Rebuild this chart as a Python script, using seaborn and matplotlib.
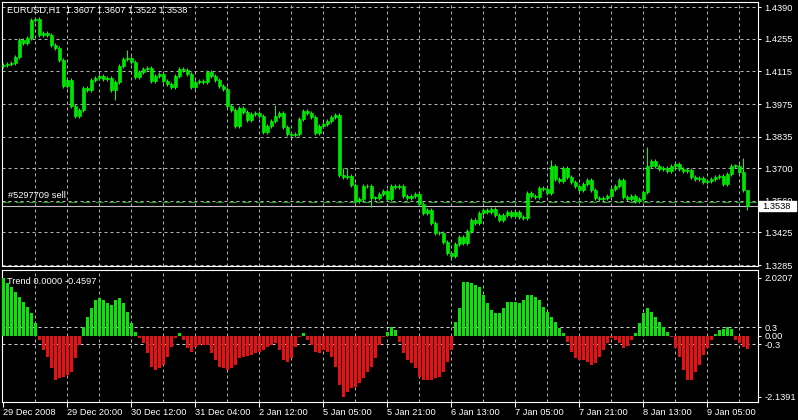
import numpy as np
import pandas as pd
import matplotlib
matplotlib.use('Agg')
import matplotlib.pyplot as plt
import matplotlib.patches as mpatches
import matplotlib.transforms as mtransforms
import seaborn as sns

# ---- data ----
symbol_info = "EURUSD,H1  1.3607 1.3607 1.3522 1.3538"
indicator_info = "Trend 0.0000 -0.4597"
order_label = "#5297709 sell"

# hourly closes, one per bar (open = previous close)
closes = [
    1.4142, 1.4146, 1.4151, 1.4176, 1.4249, 1.4237, 1.4258, 1.4335, 1.4339, 1.4271,
    1.4279, 1.4271, 1.4228, 1.4215, 1.4164, 1.4052, 1.4078, 1.3966, 1.3923, 1.3949,
    1.4043, 1.4035, 1.4078, 1.4086, 1.4095, 1.4082, 1.4086, 1.4035, 1.4069, 1.4138,
    1.4168, 1.4172, 1.4155, 1.4091, 1.4112, 1.4125, 1.4129, 1.4073, 1.4095, 1.4103,
    1.4073, 1.4061, 1.4048, 1.4095, 1.4125, 1.4121, 1.4103, 1.4048, 1.4069, 1.4073,
    1.4069, 1.4112, 1.4095, 1.4078, 1.4052, 1.4039, 1.3966, 1.3949, 1.3880, 1.3958,
    1.3941, 1.3906, 1.3932, 1.3936, 1.3923, 1.3855, 1.3880, 1.3902, 1.3923, 1.3936,
    1.3876, 1.3846, 1.3842, 1.3846, 1.3910, 1.3945, 1.3936, 1.3919, 1.3850, 1.3880,
    1.3889, 1.3902, 1.3919, 1.3928, 1.3670, 1.3662, 1.3666, 1.3627, 1.3559, 1.3567,
    1.3623, 1.3623, 1.3572, 1.3572, 1.3589, 1.3602, 1.3567, 1.3623, 1.3619, 1.3623,
    1.3580, 1.3572, 1.3580, 1.3589, 1.3546, 1.3507, 1.3520, 1.3464, 1.3421, 1.3421,
    1.3383, 1.3336, 1.3323, 1.3374, 1.3404, 1.3379, 1.3430, 1.3477, 1.3464, 1.3507,
    1.3520, 1.3512, 1.3524, 1.3499, 1.3477, 1.3499, 1.3512, 1.3494, 1.3512, 1.3490,
    1.3486, 1.3593, 1.3580, 1.3576, 1.3614, 1.3610, 1.3593, 1.3709, 1.3653, 1.3644,
    1.3700, 1.3662, 1.3640, 1.3623, 1.3606, 1.3632, 1.3649, 1.3606, 1.3572, 1.3567,
    1.3572, 1.3580, 1.3610, 1.3623, 1.3649, 1.3576, 1.3567, 1.3580, 1.3559, 1.3567,
    1.3597, 1.3709, 1.3730, 1.3709, 1.3696, 1.3700, 1.3687, 1.3709, 1.3717, 1.3696,
    1.3687, 1.3692, 1.3662, 1.3653, 1.3657, 1.3640, 1.3644, 1.3653, 1.3662, 1.3666,
    1.3632, 1.3675, 1.3709, 1.3709, 1.3683, 1.3607, 1.3538,
]
first_open = 1.4138
wick = 0.0008
# bars with visibly longer shadows
high_marks = {8: 1.4348, 31: 1.4207, 68: 1.3971, 85: 1.3700, 86: 1.3700,
              137: 1.3735, 161: 1.3791, 185: 1.3744, 186: 1.3607}
low_marks = {28: 1.3992, 58: 1.3872, 92: 1.3533, 112: 1.3306, 131: 1.3478, 186: 1.3522}

trend = [
    2.0207, 1.826, 1.686, 1.535, 1.360, 1.186, 1.012, 0.779, 0.430, -0.151,
    -0.500, -0.756, -1.140, -1.547, -1.488, -1.430, -1.372, -1.256, -0.791, -0.326,
    0.314, 0.663, 0.953, 1.244, 1.302, 1.244, 1.128, 1.070, 1.244, 1.302,
    1.128, 0.837, 0.430, 0.140, -0.093, -0.267, -0.616, -1.081, -1.198, -1.140,
    -1.023, -0.733, -0.384, -0.093, 0.081, -0.151, -0.442, -0.558, -0.384, -0.326,
    -0.326, -0.326, -0.616, -0.849, -1.081, -1.140, -1.198, -1.140, -1.023, -0.791,
    -0.733, -0.709, -0.674, -0.616, -0.558, -0.500, -0.384, -0.326, -0.267, -0.500,
    -0.849, -0.907, -0.791, -0.384, -0.035, 0.081, -0.151, -0.326, -0.558, -0.616,
    -0.500, -0.558, -0.733, -1.081, -1.721, -2.1391, -1.953, -1.837, -1.779, -1.663,
    -1.488, -1.256, -1.081, -0.791, -0.326, -0.035, 0.140, 0.314, 0.198, -0.209,
    -0.616, -0.849, -0.965, -1.140, -1.430, -1.547, -1.547, -1.547, -1.488, -1.430,
    -1.256, -0.907, -0.500, 0.488, 0.953, 1.884, 1.884, 1.826, 1.767, 1.709,
    1.419, 1.128, 0.895, 0.779, 0.779, 0.953, 1.186, 1.186, 1.186, 1.128,
    1.244, 1.419, 1.419, 1.360, 1.244, 1.012, 0.837, 0.663, 0.488, 0.256,
    0.081, -0.209, -0.558, -0.791, -0.849, -0.849, -0.907, -1.023, -0.965, -0.733,
    -0.500, -0.267, -0.070, -0.151, -0.267, -0.442, -0.360, -0.151, 0.081, 0.430,
    0.779, 0.953, 0.837, 0.663, 0.488, 0.314, 0.140, -0.035, -0.442, -0.733,
    -1.198, -1.547, -1.547, -1.256, -1.023, -0.674, -0.442, -0.151, 0.047, 0.198,
    0.221, 0.291, 0.221, -0.151, -0.267, -0.384, -0.4597,
]

price_ticks = [1.4390, 1.4255, 1.4115, 1.3975, 1.3835, 1.3700, 1.3560, 1.3425, 1.3285]
trend_ticks = [2.0207, 0.3, 0.0, -0.3, -2.1391]
trend_tick_labels = ["2.0207", "0.3", "0.00", "-0.3", "-2.1391"]
time_labels = ["29 Dec 2008", "29 Dec 20:00", "30 Dec 12:00", "31 Dec 04:00",
               "2 Jan 12:00", "5 Jan 05:00", "5 Jan 21:00", "6 Jan 13:00",
               "7 Jan 05:00", "7 Jan 21:00", "8 Jan 13:00", "9 Jan 05:00"]
bid_price = 1.3538
order_price = 1.3555

# ---- derived candle pieces ----
n = len(closes)
idx = np.arange(n)
c = np.array(closes)
o = np.r_[first_open, c[:-1]]
body_lo = np.minimum(o, c)
body_hi = np.maximum(o, c)
highs = body_hi + wick
lows = body_lo - wick
for k, v in high_marks.items():
    highs[k] = v
for k, v in low_marks.items():
    lows[k] = v

# ---- style ----
sns.set_theme(style='dark', rc={'axes.facecolor': 'black', 'figure.facecolor': 'black'})
plt.rcParams['font.family'] = ['Liberation Sans', 'DejaVu Sans']
FS = 6.7
GRID = '#b4b4b4'
dash = (0, (3, 3))

fig = plt.figure(figsize=(7.98, 4.2), dpi=100, facecolor='black')
ax1 = fig.add_axes([2 / 798, 1 - 266 / 420, 756 / 798, 264 / 420])
ax2 = fig.add_axes([2 / 798, 1 - 402 / 420, 756 / 798, 132 / 420])

# price panel
for i in range(8, n, 8):
    ax1.axvline(i, color=GRID, lw=0.72, ls=dash, zorder=1)
    ax2.axvline(i, color=GRID, lw=0.72, ls=dash, zorder=1)
for p in price_ticks:
    ax1.axhline(p, color=GRID, lw=0.72, ls=dash, zorder=1)

ax1.axhline(order_price, color='#1e9b1e', lw=0.8, ls=(0, (7, 5)), zorder=2)
ax1.axhline(bid_price, color='#c0c0c0', lw=0.8, zorder=2)

ax1.vlines(idx, lows, highs, color='#00ff00', lw=0.75, zorder=3)
ax1.bar(idx, np.maximum(body_hi - body_lo, 0.0003), bottom=body_lo, width=0.75,
        color='#00e600', edgecolor='#00ff00', linewidth=0.4, zorder=4)

ax1.set_xlim(-0.25, 188.75)
ax1.set_ylim(1.3281, 1.4413)
ax1.set_xticks([])
ax1.yaxis.tick_right()
ax1.set_yticks(price_ticks)
ax1.set_yticklabels([f"{p:.4f}" for p in price_ticks])

# indicator panel
df = pd.DataFrame({'bar': idx, 'trend': trend,
                   'dir': np.where(np.array(trend) >= 0, 'up', 'down')})
sns.barplot(data=df, x='bar', y='trend', hue='dir',
            palette={'up': '#10e010', 'down': '#e81010'}, dodge=False,
            width=0.75, saturation=1, errorbar=None, legend=False,
            linewidth=0, ax=ax2, zorder=3)
ax2.axhline(0.3, color='#d0d0d0', lw=0.72, ls=dash, zorder=2)
ax2.axhline(-0.3, color='#d0d0d0', lw=0.72, ls=dash, zorder=2)

ax2.set_xlim(-0.25, 188.75)
ax2.set_ylim(-2.3136, 2.2906)
ax2.set_xlabel('')
ax2.set_ylabel('')
ax2.set_xticks(list(range(0, n, 16)))
ax2.set_xticklabels(time_labels, ha='left')
ax2.yaxis.tick_right()
ax2.set_yticks(trend_ticks)
ax2.set_yticklabels(trend_tick_labels)

for ax in (ax1, ax2):
    ax.grid(False)
    for s in ax.spines.values():
        s.set_color('white')
        s.set_linewidth(0.8)
    ax.tick_params(axis='y', colors='white', labelsize=FS, length=2.5,
                   width=0.75, pad=2, direction='out', right=True, left=False)
ax2.tick_params(axis='x', colors='white', labelsize=FS, length=3.5,
                width=0.75, pad=1, direction='out', bottom=True)

# overlay texts
fig.text(7 / 798, 1 - 10 / 420, symbol_info, color='white', fontsize=FS, va='center')
fig.text(7 / 798, 1 - 281 / 420, indicator_info, color='white', fontsize=FS, va='center')
fig.text(8 / 798, 1 - 196 / 420, order_label, color='white', fontsize=FS, va='center')

# current price tag on the right scale (covers the 1.3560 label as in MT4)
trans = mtransforms.blended_transform_factory(fig.transFigure, ax1.transData)
fig.add_artist(mpatches.Rectangle((759 / 798, bid_price - 0.0021), 37 / 798, 0.0043,
                                  transform=trans, facecolor='white',
                                  edgecolor='white', zorder=5))
fig.text(762 / 798, bid_price, f"{bid_price:.4f}", transform=trans, color='black',
         fontsize=FS, va='center', ha='left', zorder=6)

fig.savefig('out.png', dpi=100, facecolor='black')
